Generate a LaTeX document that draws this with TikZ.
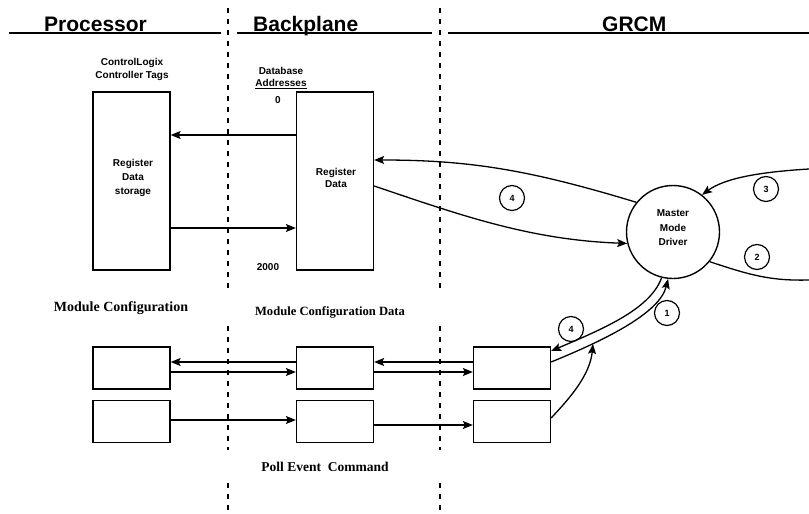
\documentclass[tikz,border=0pt]{standalone}
\usepackage{fontspec}
\setmainfont{Liberation Sans}
\newfontfamily\tnr{Liberation Serif}
\usetikzlibrary{arrows.meta}
\tikzset{
  bigbox/.style={draw, line width=1.3pt, minimum width=77pt, minimum height=178pt, inner sep=0pt},
  smallbox/.style={draw, line width=1.3pt, minimum width=77pt, minimum height=42pt, inner sep=0pt},
  drv/.style={circle, draw, line width=1.4pt, minimum size=93pt, inner sep=0pt},
  intext/.style={inner sep=0pt, align=center, font=\bfseries\fontsize{10}{14}\selectfont},
  num/.style={circle, draw, line width=1.2pt, minimum size=25pt, inner sep=0pt, font=\bfseries\fontsize{9}{9}\selectfont},
  arr/.style={-{Stealth[length=10pt,width=8pt,inset=2pt]}, line width=1.3pt},
  conn/.style={line width=1.3pt},
  sep/.style={line width=2pt, dash pattern=on 5pt off 6pt},
  hline/.style={line width=1.5pt},
  head/.style={anchor=base west, inner sep=0pt, font=\bfseries\fontsize{21}{21}\selectfont},
  lbl/.style={inner sep=0pt, anchor=base, font=\bfseries\fontsize{10}{13}\selectfont},
  tlbl/.style={inner sep=0pt, anchor=base, font=\tnr\bfseries}
}
\begin{document}
\begin{tikzpicture}[x=1pt,y=-1pt]
\useasboundingbox (0,0) rectangle (809,514);

% headers
\node[head] (hproc) at (44,31.5) {Processor};
\node[head] (hback) at (253,31.5) {Backplane};
\node[head] (hgrcm) at (602,31.5) {GRCM};
\draw[hline] (9,33) -- (221,33);
\draw[hline] (237,33) -- (432,33);
\draw[hline] (448,33) -- (809,33);

% separators
\foreach \x in {228,440}{
  \draw[sep] (\x,8) -- (\x,293);
  \draw[sep] (\x,326) -- (\x,450);
  \draw[sep] (\x,483) -- (\x,514);
}

% labels
\node[lbl] (cl1) at (132,65) {ControlLogix};
\node[lbl] (cl2) at (132,78) {Controller Tags};
\node[lbl] (db1) at (281,74.5) {Database};
\node[lbl] (db2) at (281,86) {Addresses};
\draw[line width=1.6pt] ([yshift=-2.5pt]db2.base west) -- ([yshift=-2.5pt]db2.base east);
\node[lbl] (a0) at (278,103) {0};
\node[lbl] (a2000) at (268,270) {2000};

% big boxes
\node[bigbox] (proc) at (131.5,181) {};
\node[intext] (proctxt) at (133,178) {Register\\Data\\storage};
\node[bigbox] (regd) at (335,181) {};
\node[intext, font=\bfseries\fontsize{10}{12.5}\selectfont] (regdtxt) at (336,178) {Register\\Data};

\draw[arr] ([yshift=46pt]regd.west) -- ([yshift=46pt]proc.east);
\draw[arr] ([yshift=-47pt]proc.east) -- ([yshift=-47pt]regd.west);

% driver
\node[drv] (mmd) at (673,232) {};
\node[intext, font=\bfseries\fontsize{10}{14.5}\selectfont] (mmdtxt) at (673,228) {Master\\Mode\\Driver};

\draw[arr] (mmd.141.7) .. controls (530,170) and (470,160) .. ([yshift=21pt]regd.east);
\draw[arr] ([yshift=-5pt]regd.east) .. controls (460,215) and (530,240) .. (mmd.194);

\coordinate (e3) at (809,169);
\coordinate (e2) at (809,280);
\draw[arr] (e3) .. controls (760,172) and (725,178) .. (mmd.52);
\draw[conn] (mmd.-39) .. controls (750,275) and (770,281) .. (e2);

\node[num] (n4a) at (512,198) {4};
\node[num] (n3) at (766,189) {3};
\node[num] (n2) at (757,257) {2};

% lower section labels
\node[tlbl, font=\tnr\bfseries\fontsize{14}{14}\selectfont] (mc) at (121,311) {Module Configuration};
\node[tlbl, font=\tnr\bfseries\fontsize{12.6}{12.6}\selectfont] (mcd) at (330,315) {Module Configuration Data};
\node[tlbl, font=\tnr\bfseries\fontsize{13.5}{13.5}\selectfont] (pec) at (325,471) {Poll Event~ Command};

% small boxes
\node[smallbox] (b11) at (131.5,368) {};
\node[smallbox] (b12) at (335,368) {};
\node[smallbox] (b13) at (512,368) {};
\node[smallbox] (b21) at (131.5,421.5) {};
\node[smallbox] (b22) at (335,421.5) {};
\node[smallbox] (b23) at (512,421.5) {};

\draw[arr] ([yshift=6pt]b12.west) -- ([yshift=6pt]b11.east);
\draw[arr] ([yshift=-4pt]b11.east) -- ([yshift=-4pt]b12.west);
\draw[arr] ([yshift=6pt]b13.west) -- ([yshift=6pt]b12.east);
\draw[arr] ([yshift=-4pt]b12.east) -- ([yshift=-4pt]b13.west);
\draw[arr] ([yshift=1.5pt]b21.east) -- ([yshift=1.5pt]b22.west);
\draw[arr] ([yshift=-3.5pt]b22.east) -- ([yshift=-3.5pt]b23.west);

% double link to driver
\draw[arr] (mmd.256) .. controls (650,310) and (600,330) .. ([yshift=17pt]b13.east);
\draw[arr] ([yshift=6pt]b13.east) .. controls (610,338) and (660,312) .. (mmd.264);
\coordinate (jn) at (593,344);
\draw[arr] ([yshift=3.5pt]b23.east) .. controls (570,398) and (590,375) .. (jn);

\node[num] (n4b) at (571,329) {4};
\node[num] (n1) at (667,313) {1};
\end{tikzpicture}
\end{document}
